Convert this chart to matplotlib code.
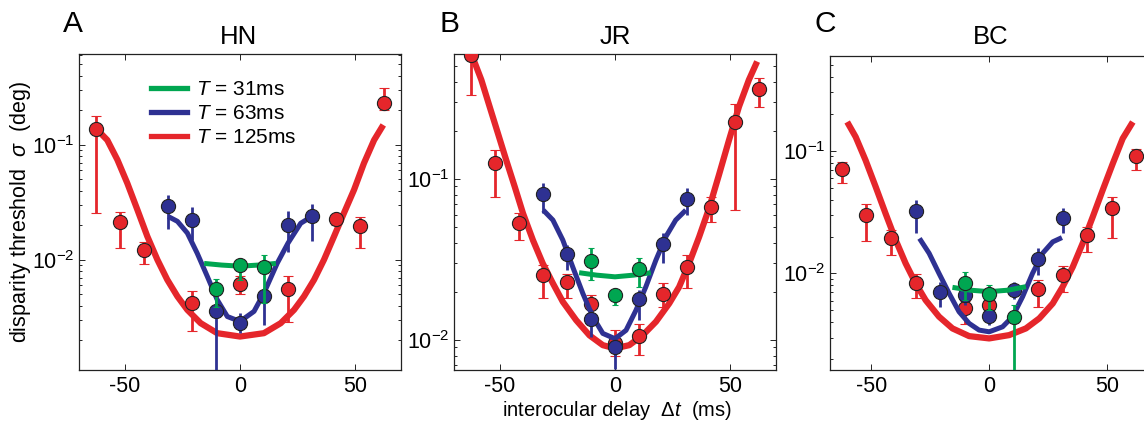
import matplotlib
matplotlib.use('Agg')
import matplotlib.pyplot as plt
import numpy as np
from matplotlib.lines import Line2D
from matplotlib.ticker import NullFormatter

plt.rcParams.update({
    'font.family': ['Liberation Sans', 'DejaVu Sans'],
    'mathtext.fontset': 'custom',
    'mathtext.rm': 'Liberation Sans',
    'mathtext.it': 'Liberation Sans:italic',
    'axes.unicode_minus': False,
})

RED = '#E5262B'
BLUE = '#2E3192'
GREEN = '#00A651'

# ---- HN ----
hn_red_x = [-62.5, -52.1, -41.7, -20.8, 0, 20.8, 41.7, 52.1, 62.5]
hn_red_y = [0.137, 0.0213, 0.0122, 0.0042, 0.0062, 0.0056, 0.0226, 0.0195, 0.233]
hn_red_lo = [0.0255, 0.0127, 0.0092, 0.0024, 0.0050, 0.0029, 0.0200, 0.0126, 0.20]
hn_red_hi = [0.18, 0.026, 0.0144, 0.0053, 0.0073, 0.0072, 0.0247, 0.0235, 0.31]
hn_blue_x = [-31.25, -20.8, -10.4, 0, 10.4, 20.8, 31.25]
hn_blue_y = [0.0291, 0.0223, 0.0036, 0.00282, 0.00486, 0.0201, 0.0241]
hn_blue_lo = [0.0185, 0.0149, 0.0009, 0.0023, 0.0027, 0.0118, 0.0145]
hn_blue_hi = [0.0367, 0.0287, 0.0045, 0.00344, 0.0055, 0.0267, 0.0307]
hn_green_x = [-10.4, 0, 10.4]
hn_green_y = [0.00556, 0.00893, 0.00863]
hn_green_lo = [0.0039, 0.0067, 0.0042]
hn_green_hi = [0.0068, 0.0100, 0.011]

hn_red_fit_x = [-62.0, -57.7, -53.3, -49.0, -44.6, -40.3, -35.9, -31.6, -27.2, -22.9, -17.1, -9.9, 0,
                10.4, 17.7, 23.5, 27.8, 32.2, 36.5, 40.9, 45.2, 49.6, 53.9, 58.3, 62.3]
hn_red_fit_y = [0.135, 0.110, 0.0741, 0.0464, 0.0272, 0.0160, 0.0100, 0.0067, 0.0048, 0.00367, 0.00281, 0.0023, 0.00215,
                0.0023, 0.00281, 0.00367, 0.0048, 0.0067, 0.0100, 0.0160, 0.0255, 0.0407, 0.0693, 0.110, 0.149]
hn_blue_fit_x = [-31.2, -27.2, -22.9, -18.6, -14.2, -9.9, -5.5, 0, 6.1, 10.4, 16.2, 20.9, 26.4, 31.2]
hn_blue_fit_y = [0.0238, 0.0216, 0.0171, 0.0114, 0.00716, 0.00449, 0.00321, 0.00291, 0.00356, 0.00513,
                 0.00935, 0.0140, 0.0208, 0.0238]
hn_green_fit_x = [-15.6, -8, 0, 8, 15.6]
hn_green_fit_y = [0.0093, 0.0090, 0.0088, 0.0090, 0.0093]

# ---- JR ----
jr_red_x = [-62.5, -52.1, -41.7, -31.25, -20.8, -10.4, 0, 10.4, 20.8, 31.25, 41.7, 52.1, 62.5]
jr_red_y = [0.589, 0.125, 0.0536, 0.0252, 0.0230, 0.0167, 0.00953, 0.0106, 0.0193, 0.0285, 0.0667, 0.227, 0.362]
jr_red_lo = [0.33, 0.0777, 0.0418, 0.0182, 0.0182, 0.0133, 0.0080, 0.0081, 0.0161, 0.0212, 0.0543, 0.0641, 0.281]
jr_red_hi = [0.62, 0.151, 0.0618, 0.0292, 0.0259, 0.0190, 0.0115, 0.0126, 0.0225, 0.0337, 0.0769, 0.292, 0.421]
jr_blue_x = [-31.25, -20.8, -10.4, 0, 10.4, 20.8, 31.25]
jr_blue_y = [0.0807, 0.0340, 0.01345, 0.0091, 0.0179, 0.0395, 0.0748]
jr_blue_lo = [0.0612, 0.0272, 0.0104, 0.0066, 0.0133, 0.0299, 0.0597]
jr_blue_hi = [0.0949, 0.0390, 0.0157, 0.0100, 0.0205, 0.046, 0.0875]
jr_green_x = [-10.4, 0, 10.4]
jr_green_y = [0.0311, 0.0190, 0.0275]
jr_green_lo = [0.0236, 0.0165, 0.0214]
jr_green_hi = [0.0371, 0.0205, 0.0321]

jr_red_fit_x = [-61.7, -58.1, -54.5, -50.9, -47.3, -43.6, -40.0, -35.7, -31.4, -27.0, -22.7, -16.9, -11.1, -5.3, 0,
                6.2, 12.0, 17.8, 23.6, 27.9, 32.2, 36.6, 40.9, 45.2, 49.6, 53.9, 58.2, 61.8]
jr_red_fit_y = [0.561, 0.412, 0.281, 0.192, 0.131, 0.0896, 0.0612, 0.0418, 0.0299, 0.0225, 0.0173, 0.0133, 0.0107,
                0.0093, 0.00888, 0.0093, 0.0107, 0.0130, 0.0169, 0.0214, 0.0299, 0.0438, 0.0658, 0.106, 0.175,
                0.281, 0.412, 0.536]
jr_blue_fit_x = [-31.2, -27.0, -22.7, -18.4, -14.0, -9.7, -5.3, 0, 4.8, 9.1, 13.4, 17.8, 22.1, 26.4, 30.8]
jr_blue_fit_y = [0.0641, 0.0556, 0.0418, 0.0285, 0.0195, 0.0140, 0.0110, 0.0102, 0.0115, 0.0153, 0.0214,
                 0.0314, 0.0438, 0.0556, 0.0641]
jr_green_fit_x = [-15.6, -8, 0, 8, 15.6]
jr_green_fit_y = [0.0262, 0.0253, 0.0247, 0.0253, 0.0262]

# ---- BC ----
bc_red_x = [-62.5, -52.1, -41.7, -31.25, -10.4, 0, 20.8, 31.25, 41.7, 52.1, 62.5]
bc_red_y = [0.0705, 0.0299, 0.0194, 0.0084, 0.00519, 0.00552, 0.0074, 0.00964, 0.0204, 0.0339, 0.0905]
bc_red_lo = [0.0548, 0.0185, 0.0141, 0.00625, 0.0039, 0.0047, 0.00535, 0.0071, 0.0150, 0.0196, 0.0695]
bc_red_hi = [0.0813, 0.0367, 0.0225, 0.0099, 0.0060, 0.0063, 0.0089, 0.0115, 0.024, 0.0417, 0.1045]
bc_blue_x = [-31.25, -20.8, -10.4, 0, 10.4, 20.8, 31.25]
bc_blue_y = [0.0322, 0.00705, 0.00666, 0.00449, 0.00731, 0.0132, 0.0281]
bc_blue_lo = [0.0212, 0.00535, 0.0055, 0.0038, 0.0062, 0.0097, 0.0212]
bc_blue_hi = [0.0396, 0.0085, 0.0080, 0.0052, 0.0085, 0.016, 0.0345]
bc_green_x = [-10.4, 0, 10.4]
bc_green_y = [0.00839, 0.00675, 0.00438]
bc_green_lo = [0.0061, 0.00502, 0.0008]
bc_green_hi = [0.0103, 0.0080, 0.0055]

bc_red_fit_x = [-60.3, -56.7, -52.5, -48.2, -44.0, -39.7, -35.5, -31.2, -27.0, -21.3, -15.6, -8.5, 0,
                8.5, 15.6, 21.3, 27.0, 31.2, 35.5, 39.7, 44.0, 48.2, 52.5, 56.7, 61.0]
bc_red_fit_y = [0.172, 0.130, 0.0839, 0.0509, 0.0308, 0.0187, 0.0121, 0.00828, 0.00606, 0.00444, 0.00356, 0.00308,
                0.00295, 0.00314, 0.00356, 0.00430, 0.00569, 0.00778, 0.0113, 0.0176, 0.0290, 0.0478, 0.0788,
                0.126, 0.172]
bc_blue_fit_x = [-29.6, -25.5, -21.3, -17.0, -12.8, -8.5, -4.3, 0, 5.7, 9.9, 14.2, 18.4, 22.7, 27.0, 30.9]
bc_blue_fit_y = [0.0193, 0.0146, 0.0100, 0.00687, 0.00487, 0.00391, 0.00345, 0.00334, 0.00367, 0.00443,
                 0.00646, 0.0100, 0.0146, 0.0181, 0.0196]
bc_green_fit_x = [-15.6, -8, 0, 8, 15.6]
bc_green_fit_y = [0.0077, 0.0073, 0.0071, 0.0073, 0.0078]

legend_labels = ['$T$ = 31ms', '$T$ = 63ms', '$T$ = 125ms']

W, H = 1144, 424
fig = plt.figure(figsize=(W / 100, H / 100), dpi=100)


def px_axes(l, t, r, b):
    return fig.add_axes([l / W, 1 - b / H, (r - l) / W, (b - t) / H])


def draw_series(ax, fx, fy, x, y, lo, hi, color, lw, capsize, z):
    ax.plot(fx, fy, color=color, lw=lw, solid_capstyle='butt', zorder=z)
    y = np.array(y)
    err = [y - np.array(lo), np.array(hi) - y]
    ax.errorbar(x, y, yerr=err, fmt='o', ms=10.2, mfc=color, mec='#222222', mew=0.8,
                ecolor=color, elinewidth=2, capsize=capsize, capthick=2, zorder=z + 1)


def style_axes(ax, xlim, ylim):
    ax.set_yscale('log')
    ax.set_xlim(*xlim)
    ax.set_ylim(*ylim)
    ax.set_xticks([-50, 0, 50])
    ax.yaxis.set_minor_formatter(NullFormatter())
    ax.tick_params(which='both', direction='in', top=True, right=True, labelsize=15.5, width=0.6)
    ax.tick_params(which='major', length=4)
    ax.tick_params(which='minor', length=2)
    ax.tick_params(axis='x', pad=4.5)
    ax.tick_params(axis='y', pad=3)
    for s in ax.spines.values():
        s.set_linewidth(0.9)
        s.set_color('#222222')


panels = [
    ((79, 54, 401, 370), (-70, 70), (0.0011, 0.617),
     [(hn_red_fit_x, hn_red_fit_y, hn_red_x, hn_red_y, hn_red_lo, hn_red_hi),
      (hn_blue_fit_x, hn_blue_fit_y, hn_blue_x, hn_blue_y, hn_blue_lo, hn_blue_hi),
      (hn_green_fit_x, hn_green_fit_y, hn_green_x, hn_green_y, hn_green_lo, hn_green_hi)]),
    ((454, 54, 776, 370), (-70, 70), (0.00652, 0.597),
     [(jr_red_fit_x, jr_red_fit_y, jr_red_x, jr_red_y, jr_red_lo, jr_red_hi),
      (jr_blue_fit_x, jr_blue_fit_y, jr_blue_x, jr_blue_y, jr_blue_lo, jr_blue_hi),
      (jr_green_fit_x, jr_green_fit_y, jr_green_x, jr_green_y, jr_green_lo, jr_green_hi)]),
    ((830, 56, 1154, 370), (-67.6, 70), (0.00163, 0.594),
     [(bc_red_fit_x, bc_red_fit_y, bc_red_x, bc_red_y, bc_red_lo, bc_red_hi),
      (bc_blue_fit_x, bc_blue_fit_y, bc_blue_x, bc_blue_y, bc_blue_lo, bc_blue_hi),
      (bc_green_fit_x, bc_green_fit_y, bc_green_x, bc_green_y, bc_green_lo, bc_green_hi)]),
]

series_style = [(RED, 4.5, 3.5), (BLUE, 3.6, 0), (GREEN, 3.6, 2.5)]

axes = []
for box, xlim, ylim, series in panels:
    ax = px_axes(*box)
    for i, (s, (c, lw, cap)) in enumerate(zip(series, series_style)):
        draw_series(ax, *s, color=c, lw=lw, capsize=cap, z=2 + 3 * i)
    style_axes(ax, xlim, ylim)
    axes.append(ax)

# legend in panel A
handles = [Line2D([], [], color=c, lw=3.8) for c in (GREEN, BLUE, RED)]
axes[0].legend(handles, legend_labels, loc='upper left', frameon=False, fontsize=15,
               bbox_to_anchor=(151 / W, 1 - 80 / H), bbox_transform=fig.transFigure,
               handlelength=1.75, handletextpad=0.4, labelspacing=0.24, borderpad=0, borderaxespad=0)

# titles and panel letters
for txt, x in [('HN', 239), ('JR', 615), ('BC', 991)]:
    fig.text(x / W, 1 - 37 / H, txt, ha='center', va='center', fontsize=18.5)
for txt, x in [('A', 63), ('B', 439), ('C', 815)]:
    fig.text(x / W, 1 - 24 / H, txt, ha='left', va='center', fontsize=21.5)

fig.text(21 / W, 1 - 212 / H, 'disparity threshold  $\\sigma$  (deg)', rotation=90,
         ha='center', va='center', fontsize=15.5)
fig.text(617 / W, 1 - 410 / H, 'interocular delay  $\\Delta t$  (ms)', ha='center', va='center', fontsize=14.5)

fig.savefig('out.png', dpi=100)
